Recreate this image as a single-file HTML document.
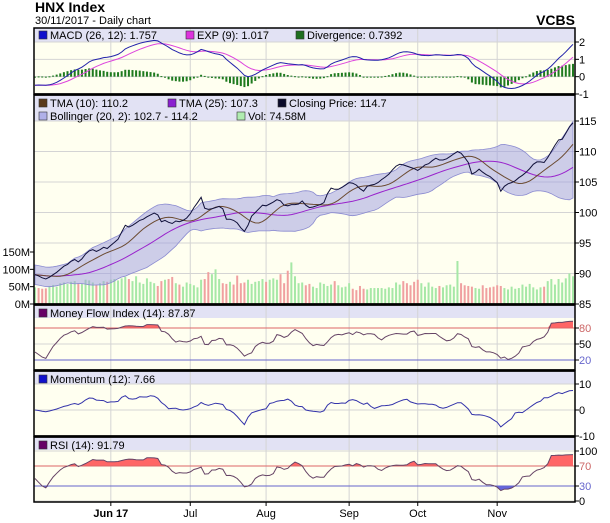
<!DOCTYPE html>
<html><head><meta charset="utf-8">
<style>
html,body{margin:0;padding:0;background:#fff;}
svg{display:block;font-family:"Liberation Sans",sans-serif;}
</style></head>
<body>
<svg id="chart" width="610" height="523" viewBox="0 0 610 523" xmlns="http://www.w3.org/2000/svg">
<text x="35" y="12" font-size="14" font-weight="bold" fill="#000">HNX Index</text>
<text x="35" y="24" font-size="11" fill="#000">30/11/2017 - Daily chart</text>
<text x="575" y="25" font-size="14" font-weight="bold" fill="#000" text-anchor="end">VCBS</text>
<g id="layer"></g>
</svg>
<script>
const close = [89.8,89.6,89.3,89.1,89.4,89.8,90.2,90.7,91.2,91.5,92.0,92.3,91.9,92.4,93.2,93.7,93.9,93.6,93.9,94.3,
94.1,94.6,95.1,95.6,96.8,97.9,97.6,97.9,98.3,98.7,98.9,99.3,99.6,99.9,99.6,98.5,98.7,98.4,98.2,98.6,
98.5,98.7,99.1,99.8,100.8,101.6,102.5,100.7,100.5,100.6,100.8,101.0,100.6,98.9,98.9,98.7,98.3,97.5,96.9,97.9,
99.4,100.0,100.6,101.2,101.1,101.4,101.7,102.1,101.9,101.2,101.1,101.3,101.3,101.4,101.9,101.2,100.8,100.9,101.1,101.3,
101.6,103.1,104.0,103.8,103.8,104.1,104.5,104.9,104.8,104.5,103.9,103.5,104.3,104.5,104.6,104.9,105.4,105.8,106.3,107.0,
107.6,107.9,107.8,107.6,107.4,107.2,106.9,107.3,107.8,108.0,108.5,108.9,108.6,108.6,108.8,109.2,109.6,110.0,109.7,109.0,
108.2,106.3,106.6,107.1,106.6,106.2,105.9,105.4,104.9,103.5,104.3,104.7,104.9,105.2,105.7,106.1,106.6,107.2,107.9,108.3,
108.3,108.2,109.0,110.0,111.0,111.9,112.0,113.0,114.0,114.7];
const volume = [48,46,44,45,52,55,50,60,62,58,64,66,60,58,70,68,62,55,60,66,
64,70,72,68,74,78,72,66,80,62,58,74,64,60,52,66,70,72,78,60,
56,50,62,58,54,48,70,72,92,86,100,72,60,58,64,56,82,60,62,70,
58,64,66,72,64,70,74,70,86,60,96,120,80,60,62,54,58,50,46,62,
58,52,56,66,54,48,50,60,44,40,52,44,42,46,46,46,46,44,48,46,
62,56,66,60,54,64,70,60,50,62,50,46,52,48,54,56,50,124,60,54,
52,50,46,44,54,46,48,50,54,52,46,42,50,44,46,56,50,58,48,42,
48,50,66,72,56,72,62,74,88,80];
const tickIdx = [21,43,64,87,106,128];
const tickLabels = ["Jun 17","Jul","Aug","Sep","Oct","Nov"];
const priceTicks = [85,90,95,100,105,110,115];
const volTicks = [0,50,100,150];
const macdTicks = [-1,0,1,2];
const mfiTicks = [20,50,80];
const momTicks = [-10,0,10];
const rsiTicks = [0,30,70,100];

const NS="http://www.w3.org/2000/svg";
const layer=document.getElementById('layer');
const L=34,R=575;
const N=close.length;
function x(i){return 35+i*(538/(N-1));}
function mk(tag,attrs,parent){const e=document.createElementNS(NS,tag);for(const k in attrs)e.setAttribute(k,attrs[k]);(parent||layer).appendChild(e);return e;}
function lin(v0,y0,v1,y1){return v=>y0+(v-v0)*(y1-y0)/(v1-v0);}
const yP=lin(85,304,115,121), yV=lin(0,304,150,252), yM=lin(-1,94,2,42),
      yF=lin(20,360,80,328), yMo=lin(-10,436,10,384), yR=lin(30,486,70,466);

// indicators
function sma(a,n){return a.map((v,i)=>{const s=a.slice(Math.max(0,i-n+1),i+1);return s.reduce((p,c)=>p+c,0)/s.length;});}
function ema(a,n){const k=2/(n+1);let out=[],e=a[0];a.forEach((v,i)=>{e=i?v*k+e*(1-k):v;out.push(e);});return out;}
const tma10=sma(sma(close,5),6), tma25=sma(sma(close,13),13);
const bMid=sma(close,20);
const bSd=close.map((v,i)=>{const s=close.slice(Math.max(0,i-19),i+1);const m=bMid[i];return Math.sqrt(s.reduce((p,c)=>p+(c-m)*(c-m),0)/s.length);});
const bUp=bMid.map((m,i)=>m+2*Math.max(bSd[i],0.8)), bLo=bMid.map((m,i)=>m-2*Math.max(bSd[i],0.8));
const e12=ema(close,12), e26=ema(close,26);
const macd=e12.map((v,i)=>v-e26[i]-0.5*Math.max(0,1-i/15));
const sig=ema(macd,9);
const div=macd.map((v,i)=>v-sig[i]);
const mom=close.map((v,i)=>v-close[Math.max(0,i-12)]);
function osc(i,seed,wt){let g=seed*0.01,l=(100-seed)*0.01;
  for(let j=Math.max(1,i-13);j<=i;j++){const d=close[j]-close[j-1];const f=wt?wt(j):1;if(d>0)g+=d*f;else l+=(-d||0.05)*f;}
  return 100*g/(g+l);}
const rsi=close.map((v,i)=>osc(i,45,null));
const mfi=close.map((v,i)=>osc(i,35,j=>volume[j]/60));

// panels
const panels=[
 {name:'macd',top:28,hb:42,bot:94},
 {name:'price',top:95,hb:121,bot:304},
 {name:'mfi',top:305,hb:318,bot:370},
 {name:'momentum',top:371,hb:384,bot:436},
 {name:'rsi',top:437,hb:450,bot:502}];
const defs=mk('defs',{});
panels.forEach(p=>{
  const bg=mk('rect',{x:L,y:p.top,width:R-L,height:p.bot-p.top,fill:'#fffff0'});
  
  
  const hb=mk('rect',{x:L,y:p.top,width:R-L,height:p.hb-p.top,fill:'#e2e2f4'});
  
  
  const cp=mk('clipPath',{id:'clip-'+p.name},defs);
  mk('rect',{x:L,y:p.top,width:R-L,height:p.bot-p.top},cp);
  tickIdx.forEach(i=>{const g=mk('line',{x1:x(i),x2:x(i),y1:p.top,y2:p.bot,stroke:'#d4d4d4','stroke-width':1});
    
    });
});
function hgrid(vals,fy,name,labelColor){vals.forEach(v=>{const y=fy(v);
  const g=mk('line',{x1:L,x2:R,y1:y,y2:y,stroke:'#d4d4d4'});
  
  
  mk('line',{x1:R,x2:R+4,y1:y,y2:y,stroke:'#000'});
  const t=mk('text',{x:R+4,y:y+4,'font-size':11,fill:labelColor?labelColor(v):'#000'});t.textContent=v;
  
  });}
hgrid(macdTicks,yM,'macd-axis');
hgrid(priceTicks,yP,'price-axis');
hgrid(mfiTicks,yF,'mfi-axis',v=>v==80?'#cc6666':v==20?'#6666cc':'#000');
hgrid(momTicks,yMo,'momentum-axis');
hgrid(rsiTicks,yR,'rsi-axis',v=>v==70?'#cc6666':v==30?'#6666cc':'#000');
volTicks.forEach(v=>{const y=yV(v);
  mk('line',{x1:L-4,x2:L,y1:y,y2:y,stroke:'#000'});
  const t=mk('text',{x:L-4,y:y+4,'font-size':11,'text-anchor':'end'});t.textContent=v+'M';
  
  });

function path(arr,fy,color,name,clip,w){const d=arr.map((v,i)=>(i?'L':'M')+x(i).toFixed(1)+' '+fy(v).toFixed(1)).join(' ');
  const e=mk('path',{d:d,fill:'none',stroke:color,'stroke-width':w||1,'clip-path':'url(#clip-'+clip+')'});
  
  return e;}
function fillBetween(arr,fy,level,above,color,name,clip){
  const d='M'+x(0)+' '+fy(level)+' '+arr.map((v,i)=>'L'+x(i).toFixed(1)+' '+fy(above?Math.max(v,level):Math.min(v,level)).toFixed(1)).join(' ')+' L'+x(N-1)+' '+fy(level)+'Z';
  const e=mk('path',{d:d,fill:color,stroke:'none','clip-path':'url(#clip-'+clip+')'});
  
  }

// MACD
div.forEach((v,i)=>{const y0=yM(0),y1=yM(v);
  const b=mk('rect',{x:x(i)-1,y:Math.min(y0,y1),width:2,height:Math.max(1,Math.abs(y1-y0)),fill:'#1e7a1e'});
  
  });
path(sig,yM,'#dd44dd','exp-signal-line','macd');
path(macd,yM,'#2222aa','macd-line','macd');

// Volume
volume.forEach((v,i)=>{const up=i==0||close[i]>=close[i-1];
  const b=mk('rect',{x:x(i)-1,y:yV(v),width:2,height:304-yV(v),fill:up?'#a6e8a6':'#f0a0a0'});
  
  });
// Bollinger
{const d='M'+bUp.map((v,i)=>x(i).toFixed(1)+' '+yP(v).toFixed(1)).join(' L')+' L'+bLo.map((v,i)=>x(i).toFixed(1)+' '+yP(v).toFixed(1)).reverse().join(' L')+'Z';
 const e=mk('path',{d:d,fill:'#9c9ce0','fill-opacity':0.5,stroke:'#8a8ad0','stroke-width':0.8,'clip-path':'url(#clip-price)'});
 
 }
path(tma25,yP,'#9922cc','tma-25-line','price');
path(tma10,yP,'#6b4a30','tma-10-line','price');
path(close,yP,'#10103a','closing-price-line','price');

// MFI
fillBetween(mfi,yF,80,true,'#ff6666','mfi-overbought-fill','mfi');
[[80,'#dd6666'],[20,'#6666cc']].forEach(([v,c])=>{const l=mk('line',{x1:L,x2:R,y1:yF(v),y2:yF(v),stroke:c});
  
  });
path(mfi,yF,'#664466','money-flow-line','mfi');
// Momentum
path(mom,yMo,'#3333aa','momentum-line','momentum');
// RSI
fillBetween(rsi,yR,70,true,'#ff6666','rsi-overbought-fill','rsi');
fillBetween(rsi,yR,30,false,'#6666dd','rsi-oversold-fill','rsi');
[[70,'#dd6666'],[30,'#6666cc']].forEach(([v,c])=>{const l=mk('line',{x1:L,x2:R,y1:yR(v),y2:yR(v),stroke:c});
  
  });
path(rsi,yR,'#664466','rsi-line','rsi');

// Legends
function legend(px,py,color,label,name){
  const s=mk('rect',{x:px,y:py-8,width:8,height:8,fill:color,stroke:'#333','stroke-width':0.6});
  
  
  const t=mk('text',{x:px+11,y:py,'font-size':11,fill:'#000'});t.textContent=label;
  
  }
legend(39,39,'#1010cc','MACD (26, 12): 1.757','legend-macd');
legend(186,39,'#dd33dd','EXP (9): 1.017','legend-exp');
legend(296,39,'#1e6e1e','Divergence: 0.7392','legend-divergence');
legend(39,107,'#5a3a1a','TMA (10): 110.2','legend-tma-10');
legend(168,107,'#8a20d0','TMA (25): 107.3','legend-tma-25');
legend(278,107,'#0a0a2a','Closing Price: 114.7','legend-closing-price');
legend(39,120,'#b0b0e8','Bollinger (20, 2): 102.7 - 114.2','legend-bollinger');
legend(237,120,'#b0ecb0','Vol: 74.58M','legend-volume');
legend(39,317,'#660066','Money Flow Index (14): 87.87','legend-mfi');
legend(39,383,'#1010cc','Momentum (12): 7.66','legend-momentum');
legend(39,449,'#660066','RSI (14): 91.79','legend-rsi');

// borders
panels.forEach(p=>{const b=mk('rect',{x:L,y:p.top,width:R-L,height:p.bot-p.top,fill:'none',stroke:'#000','stroke-width':1.5});
  
  });
[94.5,304.5,370.5,436.5].forEach(y=>mk('line',{x1:L,x2:R,y1:y,y2:y,stroke:'#000','stroke-width':2.5}));

// x axis
tickIdx.forEach((i,k)=>{mk('line',{x1:x(i),x2:x(i),y1:502,y2:506,stroke:'#000'});
  const t=mk('text',{x:x(i),y:517,'font-size':11,'text-anchor':'middle','font-weight':k==0?'bold':'normal'});t.textContent=tickLabels[k];
  
  });
</script>
</body></html>
